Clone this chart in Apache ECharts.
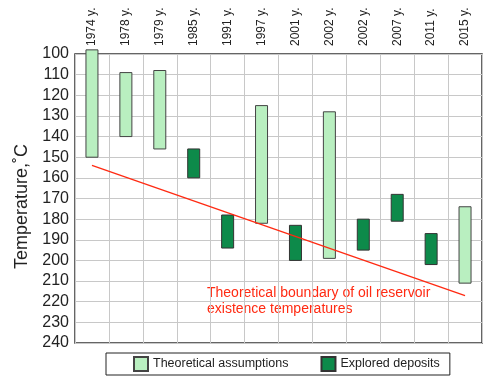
<!DOCTYPE html>
<html>
<head>
<meta charset="utf-8">
<script src="https://cdn.jsdelivr.net/npm/echarts@6/dist/echarts.min.js"></script>
<style>
  html, body { margin: 0; padding: 0; background: #fff; }
  #chart_container { width: 484px; height: 378px; }
</style>
</head>
<body>
<div id="chart_container"></div>
<script>
"use strict";

// categories along the top axis
const years = ['1974 y.', '1978 y.', '1979 y.', '1985 y.', '1991 y.', '1997 y.',
               '2001 y.', '2002 y.', '2002 y.', '2007 y.', '2011 y.', '2015 y.'];

// [category index, upper temp, lower temp]
const theoretical = [[0, 98, 150], [1, 109, 140], [2, 108, 146], [5, 125, 182], [7, 128, 199], [11, 174, 211]];
const explored = [[3, 146, 160], [4, 178, 194], [6, 183, 200], [8, 180, 195], [9, 168, 181], [10, 187, 202]];

// boundary line: first and last category only
const boundary = [154, null, null, null, null, null, null, null, null, null, null, 217];

let rangeBar = (params, api) => {
    const x = api.value(0);
    const top = api.coord([x, api.value(1)]);
    const bot = api.coord([x, api.value(2)]);
    const w = 12;
    return {
        type: 'rect',
        shape: { x: top[0] - w / 2, y: top[1], width: w, height: bot[1] - top[1] },
        style: api.style()
    };
};

const optEchart = {
    animation: false,
    textStyle: { fontFamily: 'Liberation Sans, Arial, sans-serif' },
    grid: { left: 75, right: 2, top: 54, bottom: 35, show: true, borderColor: '#333', borderWidth: 1.5 },
    xAxis: {
        type: 'category',
        data: years,
        position: 'top',
        axisLine: { show: false },
        axisTick: { show: false },
        axisLabel: { rotate: -90, fontSize: 12, color: '#222', margin: 8 },
        splitLine: { show: true, interval: 0, lineStyle: { color: '#c8c8c8', width: 1 } }
    },
    yAxis: {
        type: 'value',
        inverse: true,
        min: 100, max: 240, interval: 10,
        name: 'Temperature,˚C',
        nameLocation: 'middle',
        nameGap: 40,
        nameTextStyle: { fontSize: 18, color: '#222', padding: [0, 16, 0, 0] },
        axisLine: { show: false },
        axisTick: { show: false },
        axisLabel: { fontSize: 16, color: '#222', margin: 6 },
        splitLine: { lineStyle: { color: '#c8c8c8', width: 1 } }
    },
    legend: {
        left: 106, top: 353,
        padding: [3, 10, 3, 27],
        itemGap: 32,
        itemWidth: 14, itemHeight: 14,
        icon: 'rect',
        borderColor: '#222', borderWidth: 1,
        textStyle: { fontSize: 12.5, color: '#222' },
        data: ['Theoretical assumptions', 'Explored deposits']
    },
    series: [
        {
            name: 'Theoretical assumptions', type: 'custom', renderItem: rangeBar, clip: false,
            itemStyle: { color: '#b9efc0', borderColor: '#444', borderWidth: 1 },
            encode: { x: 0, y: [1, 2] },
            data: theoretical
        },
        {
            name: 'Explored deposits', type: 'custom', renderItem: rangeBar, clip: false,
            itemStyle: { color: '#0d8a4a', borderColor: '#333', borderWidth: 1 },
            encode: { x: 0, y: [1, 2] },
            data: explored
        },
        {
            name: 'boundary', type: 'line', data: boundary, connectNulls: true,
            symbol: 'none', lineStyle: { color: '#ff2a12', width: 1.3 }
        }
    ],
    graphic: [{
        type: 'text', left: 207, top: 285,
        style: {
            text: 'Theoretical boundary of oil reservoir\nexistence temperatures',
            fill: '#ff2a12', fontSize: 14, lineHeight: 16,
            fontFamily: 'Liberation Sans, Arial, sans-serif'
        }
    }]
};

let chartDom = document.getElementById('chart_container');
let myChart = echarts.init(chartDom);
myChart.setOption(optEchart);
</script>
</body>
</html>
